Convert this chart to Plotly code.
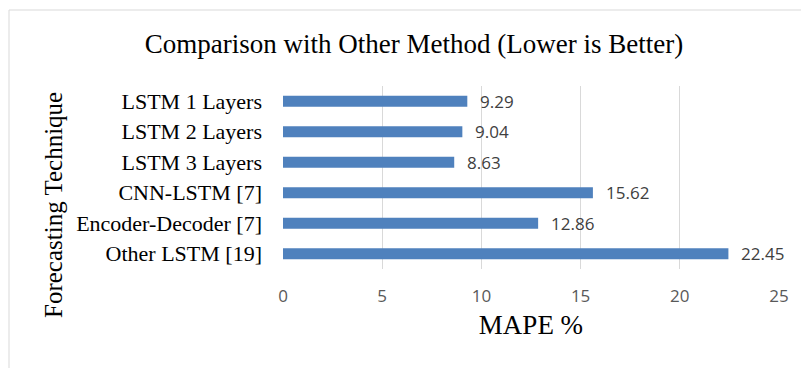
import plotly.graph_objects as go

categories = ["LSTM 1 Layers", "LSTM 2 Layers", "LSTM 3 Layers",
              "CNN-LSTM [7]", "Encoder-Decoder [7]", "Other LSTM [19]"]
mape = [9.29, 9.04, 8.63, 15.62, 12.86, 22.45]
x_ticks = [0, 5, 10, 15, 20, 25]

W, H = 801, 368
L, R, T, B = 283, 22, 86, 99

SERIF = "Liberation Serif, Times New Roman, serif"
SANS = "Open Sans, Liberation Sans, sans-serif"

fig = go.Figure()
fig.add_trace(go.Bar(
    y=categories, x=mape, orientation="h",
    marker=dict(color="#4F81BD", line=dict(width=0)),
    width=0.36, hoverinfo="x+y",
))

for c, v in zip(categories, mape):
    fig.add_annotation(x=v, y=c, xref="x", yref="y", text=f"{v:.2f}",
                       showarrow=False, xanchor="left", xshift=11,
                       font=dict(family=SANS, size=17, color="#404040"))

pw = W - L - R
ph = H - T - B
fig.add_annotation(x=(53 - L) / pw, y=1 - (205 - T) / ph, xref="paper", yref="paper",
                   text="Forecasting Technique", textangle=-90, showarrow=False,
                   xanchor="center", yanchor="middle",
                   font=dict(family=SERIF, size=25, color="#000000"))

fig.update_layout(
    width=W, height=H,
    margin=dict(l=L, r=R, t=T, b=B, pad=0),
    paper_bgcolor="white", plot_bgcolor="white",
    showlegend=False,
    title=dict(text="Comparison with Other Method (Lower is Better)",
               x=414 / W, xanchor="center", y=1 - 44 / H, yanchor="middle",
               font=dict(family=SERIF, size=27, color="#000000")),
    xaxis=dict(range=[0, 25], tickvals=x_ticks, ticktext=[str(t) for t in x_ticks],
               showgrid=True, gridcolor="#d9d9d9", gridwidth=1, zeroline=False,
               showline=False, ticks="", ticklabelstandoff=15,
               tickfont=dict(family=SANS, size=17, color="#595959"),
               title=dict(text="MAPE %", standoff=9,
                          font=dict(family=SERIF, size=27, color="#000000"))),
    yaxis=dict(autorange="reversed", showgrid=False, zeroline=False, showline=False,
               ticks="", ticklabelstandoff=20,
               tickfont=dict(family=SERIF, size=22, color="#000000")),
    shapes=[dict(type="rect", xref="paper", yref="paper",
                 x0=(9 - L) / pw, x1=(W + 5 - L) / pw,
                 y0=1 + (T - 10) / ph, y1=-(B + 10) / ph,
                 line=dict(color="#d9d9d9", width=1), fillcolor="rgba(0,0,0,0)", layer="below")],
)

fig.write_html("out.html")
